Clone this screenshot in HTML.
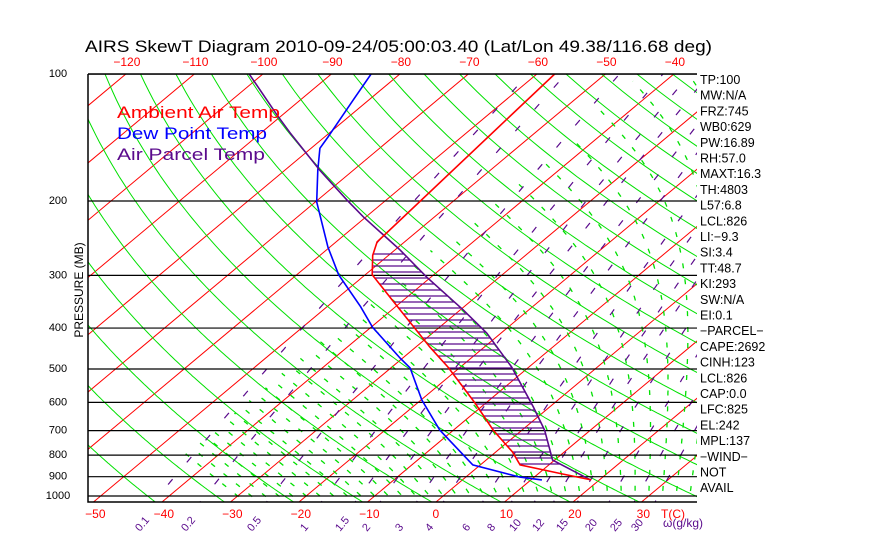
<!DOCTYPE html>
<html><head><meta charset="utf-8"><style>
html,body{margin:0;padding:0;background:#fff;width:870px;height:560px;overflow:hidden}
svg{display:block;font-family:"Liberation Sans",sans-serif}
</style></head><body>
<svg id="chart" width="870" height="560" viewBox="0 0 870 560" xmlns="http://www.w3.org/2000/svg">
<defs><clipPath id="plotclip"><rect x="88" y="74" width="609" height="428"/></clipPath></defs>
<rect width="870" height="560" fill="#fff"/>
<text x="85" y="52" font-size="17" textLength="627" lengthAdjust="spacingAndGlyphs">AIRS SkewT Diagram 2010-09-24/05:00:03.40 (Lat/Lon 49.38/116.68 deg)</text>
<g id="plot" clip-path="url(#plotclip)"></g>
<g id="over"></g>
<text x="117" y="118" font-size="17" fill="#ff0000" textLength="163" lengthAdjust="spacingAndGlyphs">Ambient Air Temp</text>
<text x="117" y="139" font-size="17" fill="#0000ff" textLength="150" lengthAdjust="spacingAndGlyphs">Dew Point Temp</text>
<text x="117" y="160" font-size="17" fill="#5a0a8c" textLength="148" lengthAdjust="spacingAndGlyphs">Air Parcel Temp</text>
<text transform="translate(83,290) rotate(-90)" font-size="12" text-anchor="middle">PRESSURE (MB)</text>
</svg>
<script>
const pressureTicks=[100,200,300,400,500,600,700,800,900,1000];
const bottomTempTicks=[-50,-40,-30,-20,-10,0,10,20,30];
const topTempTicks=[-120,-110,-100,-90,-80,-70,-60,-50,-40];
const mixRatios=[0.1,0.2,0.5,1,1.5,2,3,4,6,8,10,12,15,20,25,30];
const mixLabelX=[140,186,252,305,340,367,400,430,467,492,514,537,561,590,615,636];
const tempP=[916,887,844,786,698,602,495,444,343,299,269,250,100];
const tempT=[18.8,13.6,5.8,2.4,-4.2,-11.6,-21.8,-27.9,-41.7,-49.0,-52.3,-54.0,-57.4];
const parcelP=[916,822,698,615,495,411,362,303,261,218,199,169,138,126,100];
const parcelT=[18.7,9.7,3.3,-2.4,-12.5,-22.1,-29.6,-40.6,-49.3,-60.4,-65.7,-74.9,-85.7,-90.4,-102];
const dewP=[916,902,844,698,592,497,471,398,356,299,257,201,169,150,141,115,100];
const dewT=[11.6,7.9,-1.1,-12.0,-19.9,-27.2,-30.4,-39.8,-45.1,-53.9,-60.3,-69.8,-75.2,-78.7,-79.5,-82.3,-84.2];
const indices=["TP:100","MW:N/A","FRZ:745","WB0:629","PW:16.89","RH:57.0","MAXT:16.3","TH:4803","L57:6.8","LCL:826","LI:\u22129.3","SI:3.4","TT:48.7","KI:293","SW:N/A","EI:0.1","\u2212PARCEL\u2212","CAPE:2692","CINH:123","LCL:826","CAP:0.0","LFC:825","EL:242","MPL:137","\u2212WIND\u2212","NOT","AVAIL"];

const NS="http://www.w3.org/2000/svg";
const TOP=74,BOT=502,LEFT=88,RIGHT=697;
function yP(p){return TOP+422*Math.log10(p/100);}
function xT(T,p){return 436+6.85*T+1.196*(BOT-yP(p));}
const plot=document.getElementById('plot'),over=document.getElementById('over');
function mk(tag,attrs,parent){const e=document.createElementNS(NS,tag);for(const k in attrs)e.setAttribute(k,attrs[k]);parent.appendChild(e);return e;}
function pathFrom(pts){return pts.map((q,i)=>(i?'L':'M')+q[0].toFixed(1)+' '+q[1].toFixed(1)).join(' ');}
const pSteps=[];for(let p=1060;p>=95;p-=5)pSteps.push(p);

for(let T=-170;T<=50;T+=10){
  const e=mk('line',{x1:xT(T,1060),y1:yP(1060),x2:xT(T,95),y2:yP(95),stroke:'#ff0000','stroke-width':1},plot);
  
  
}
for(let th=200;th<=500;th+=10){
  const pts=pSteps.map(p=>[xT(th*Math.pow(p/1000,0.286)-273.15,p),yP(p)]);
  const e=mk('path',{d:pathFrom(pts),fill:'none',stroke:'#00e000','stroke-width':1},plot);
  
  
}
function es(T){return 6.112*Math.exp(17.67*T/(T+243.5));}
function step(T,p,dp){const rs=0.622*es(T-273.15)/(p-es(T-273.15));const Lv=2.5e6,Rd=287,cp=1004;
  return T+(Rd*T+Lv*rs)/(p*(cp+Lv*Lv*rs*0.622/(Rd*T*T)))*dp;}
for(let tw=-30;tw<=40;tw+=2){
  let T=tw+273.15;for(let q=1000;q<1060;q+=2){T=step(T,q,2);}
  let p=1060;const pts=[];
  while(p>=96&&T-273.15>-45){pts.push([xT(T-273.15,p),yP(p)]);T=step(T,p,-2);p-=2;}
  if(pts.length<2)continue;
  const e=mk('path',{d:pathFrom(pts),fill:'none',stroke:'#00e000','stroke-width':1.3,'stroke-dasharray':'5 11'},plot);
  
  
}
mixRatios.forEach(w=>{
  const pts=pSteps.map(p=>{const e=w*p/(622+w);const l=Math.log(e/6.112);return [xT(243.5*l/(17.67-l),p),yP(p)];});
  const e=mk('path',{d:pathFrom(pts),fill:'none',stroke:'#5a0a8c','stroke-width':1.2,'stroke-dasharray':'7 22'},plot);
  
  
});
pressureTicks.forEach(p=>{
  const e=mk('line',{x1:LEFT,y1:yP(p),x2:RIGHT,y2:yP(p),stroke:'#000','stroke-width':1.2},plot);
  
  
  const t=mk('text',{x:58,y:yP(p)+3,'font-size':11,'text-anchor':'middle'},over);t.textContent=p;
  
  
});
function interp(P,T,p){for(let i=0;i<P.length-1;i++){if(p<=P[i]&&p>=P[i+1]){const f=Math.log(p/P[i])/Math.log(P[i+1]/P[i]);return T[i]+f*(T[i+1]-T[i]);}}return null;}
for(let y=254;y<=466;y+=6){
  const p=100*Math.pow(10,(y-TOP)/422);
  const a=interp(tempP,tempT,p),b=interp(parcelP,parcelT,p);
  if(a!==null&&b!==null&&b>a){
    const e=mk('line',{x1:xT(a,p),y1:y,x2:xT(b,p),y2:y,stroke:'#5a0a8c','stroke-width':1.3},plot);
    
    
  }
}
function profile(P,T,color,name){
  const e=mk('path',{d:pathFrom(P.map((p,i)=>[xT(T[i],p),yP(p)])),fill:'none',stroke:color,'stroke-width':1.6},plot);
  
  
}
profile(dewP,dewT,'#0000ff','dewpoint-line');
profile(parcelP,parcelT,'#5a0a8c','parcel-line');
profile(tempP,tempT,'#ff0000','temperature-line');
const fr=mk('path',{d:`M${LEFT} ${TOP}L${RIGHT} ${TOP}M${LEFT} ${TOP}L${LEFT} ${BOT}L${RIGHT} ${BOT}`,stroke:'#000','stroke-width':1.5,fill:'none'},over);


bottomTempTicks.forEach(T=>{
  const t=mk('text',{x:xT(T,1034)+(T===0?0:2),y:518,'font-size':12,fill:'#ff0000','text-anchor':'middle'},over);t.textContent=(T<0?'\u2212':'')+Math.abs(T);
  
  
});
const tc=mk('text',{x:673,y:518,'font-size':12,fill:'#ff0000','text-anchor':'middle'},over);tc.textContent='T(C)';


topTempTicks.forEach(T=>{
  const t=mk('text',{x:xT(T,100)+1,y:66,'font-size':12,fill:'#ff0000','text-anchor':'middle'},over);t.textContent='\u2212'+Math.abs(T);
  
  
});
mixRatios.forEach((w,i)=>{
  const t=mk('text',{x:0,y:0,'font-size':11,fill:'#5a0a8c',transform:`translate(${mixLabelX[i]},${532}) rotate(-50)`},over);t.textContent=w;
  
  
});
const wl=mk('text',{x:663,y:527,'font-size':12,fill:'#5a0a8c'},over);wl.textContent='\u03c9(g/kg)';


indices.forEach((s,i)=>{
  const y=84+i*15.7;
  const t=mk('text',{x:700,y:y,'font-size':12.5},over);t.textContent=s;
  
  
});
</script>
</body></html>
